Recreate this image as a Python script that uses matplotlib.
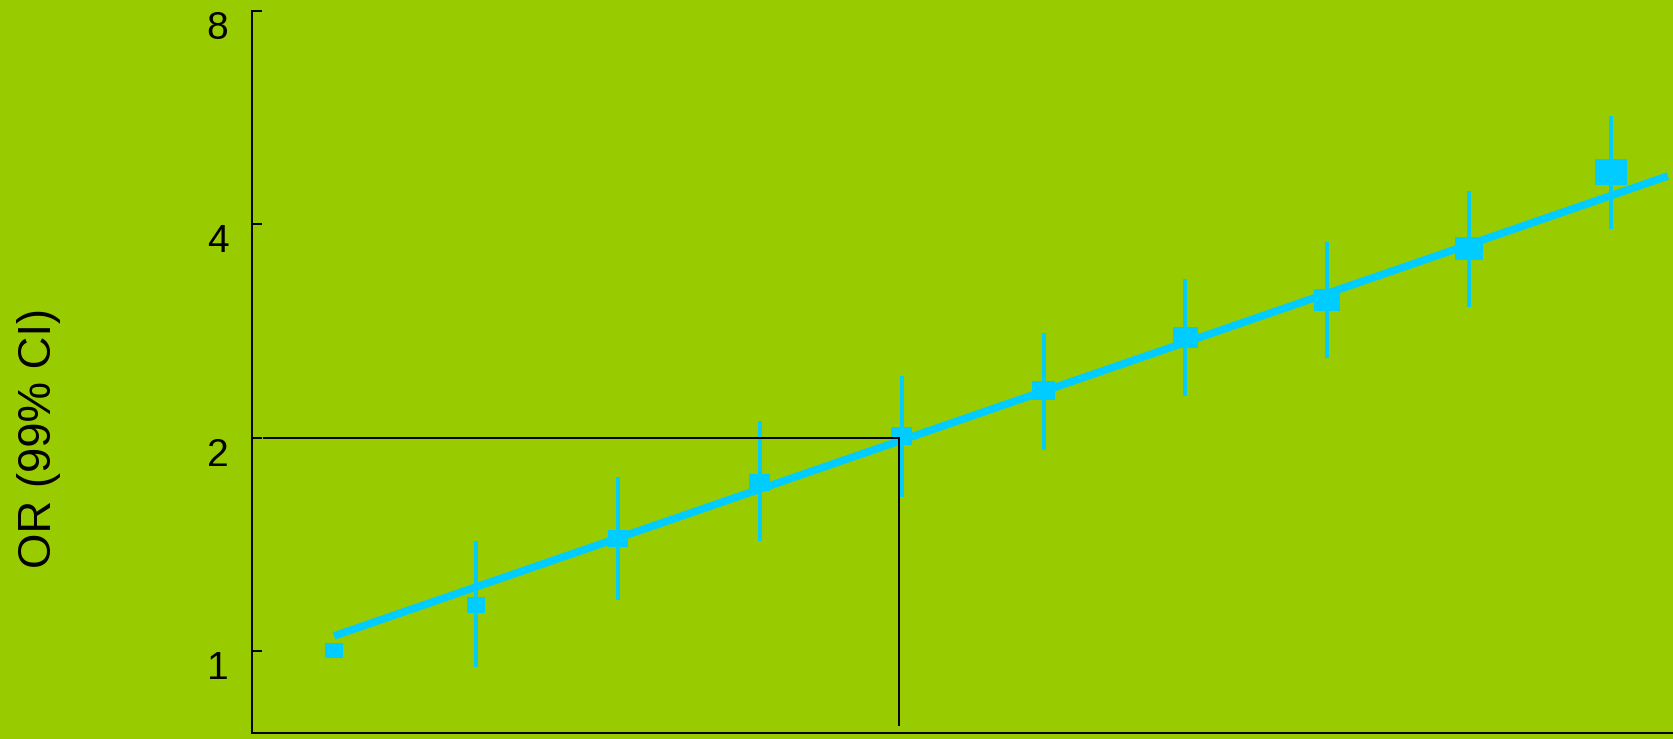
import numpy as np
import matplotlib
matplotlib.use("Agg")
import matplotlib.pyplot as plt
from matplotlib.path import Path
from matplotlib.transforms import ScaledTranslation

# Odds ratios (99% CI) by ordered group; group 1 is the reference
groups = np.arange(1, 11)
odds_ratio = [1.00, 1.16, 1.44, 1.73, 2.01, 2.33, 2.77, 3.13, 3.70, 4.74]
ci_low = [np.nan, 0.95, 1.18, 1.43, 1.65, 1.92, 2.29, 2.59, 3.06, 3.94]
ci_high = [np.nan, 1.43, 1.76, 2.11, 2.44, 2.81, 3.35, 3.78, 4.46, 5.69]

# Fitted log-linear trend
trend_x = [1.0, 10.40]
trend_or = [1.05, 4.68]

# Doubling of risk marker
ref_or = 2.0
ref_x = 4.98

y_ticks = [1, 2, 4, 8]
y_ticklabels = ["1", "2", "4", "8"]

BG = "#99CC00"
CYAN = "#00CCFF"
plt.rcParams["font.family"] = ["Liberation Sans", "DejaVu Sans"]

fig = plt.figure(figsize=(16.74, 7.39), dpi=100, facecolor=BG)
ax = fig.add_axes([252 / 1674, 6 / 739, 1 - 252 / 1674, 722 / 739])
ax.set_facecolor(BG)

ax.set_yscale("log", base=2)
ax.set_xlim(0.422, 10.443)
ax.set_ylim(0.766, 8)

# Confidence intervals
ax.vlines(groups, ci_low, ci_high, colors=CYAN, linewidth=2.8, zorder=2)

# Trend line
ax.plot(trend_x, trend_or, color=CYAN, linewidth=5.5, solid_capstyle="butt", zorder=3)

# Point estimates as wide boxes, sized by precision
box = Path([(-0.6, -0.5), (0.6, -0.5), (0.6, 0.5), (-0.6, 0.5), (-0.6, -0.5)],
           [Path.MOVETO, Path.LINETO, Path.LINETO, Path.LINETO, Path.CLOSEPOLY])
box_width_px = np.array([18, 18.7, 20, 21, 21.7, 23.3, 25, 26.3, 28.3, 32])
box_size_pt = box_width_px * 72 / fig.dpi
ax.scatter(groups, odds_ratio, s=box_size_pt ** 2, marker=box, color=CYAN,
           linewidths=0, zorder=4)

# Reference lines at OR = 2
ax.plot([0.51, ref_x], [ref_or, ref_or], color="black", linewidth=1.4, zorder=5)
ax.plot([ref_x, ref_x], [ref_or, 0.786], color="black", linewidth=1.4, zorder=5)

# Axes styling
for side in ("top", "right"):
    ax.spines[side].set_visible(False)
for side in ("left", "bottom"):
    ax.spines[side].set_linewidth(1.4)
    ax.spines[side].set_color("black")

ax.set_xticks([])
ax.set_yticks(y_ticks)
ax.set_yticklabels(y_ticklabels)
ax.yaxis.set_minor_locator(matplotlib.ticker.NullLocator())
ax.tick_params(axis="y", direction="in", length=7.2, width=1.4, pad=17,
               labelsize=28, colors="black")
offset = ScaledTranslation(0, -14 / fig.dpi, fig.dpi_scale_trans)
for lab in ax.get_yticklabels():
    lab.set_transform(lab.get_transform() + offset)

fig.text(39.5 / 1674, 1 - 437.5 / 739, "OR (99% CI)", rotation=90,
         ha="center", va="center", fontsize=32.8, color="black")

fig.savefig("out.png", dpi=100, facecolor=BG)
